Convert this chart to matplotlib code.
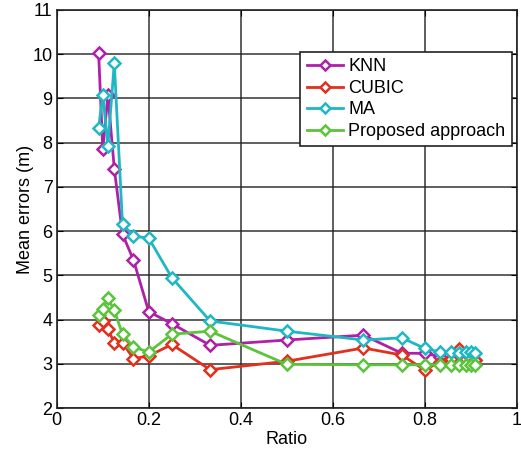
import matplotlib
matplotlib.use('Agg')
from matplotlib import pyplot as plt

plt.rcParams['font.family'] = ['Liberation Sans', 'DejaVu Sans']
plt.rcParams['font.size'] = 13

# ratios (1/k for the low end, k/(k+1) for the high end)
ratio = [1/11, 1/10, 1/9, 1/8, 1/7, 1/6, 1/5, 1/4, 1/3,
         1/2, 2/3, 3/4, 4/5, 5/6, 6/7, 7/8, 8/9, 9/10, 10/11]

knn = [10.03, 7.85, 9.08, 7.41, 5.93, 5.35, 4.18, 3.91, 3.42,
       3.54, 3.65, 3.24, 3.24, 3.16, 3.12, 3.10, 3.10, 3.10, 3.08]
cubic = [3.89, 3.97, 3.78, 3.48, 3.48, 3.12, 3.18, 3.44, 2.87,
         3.06, 3.36, 3.20, 2.86, 3.05, 3.12, 3.33, 3.12, 3.14, 3.09]
ma = [8.33, 9.08, 7.93, 9.80, 6.16, 5.89, 5.84, 4.95, 3.97,
      3.74, 3.54, 3.59, 3.35, 3.27, 3.26, 3.24, 3.27, 3.26, 3.24]
proposed = [4.10, 4.25, 4.49, 4.21, 3.67, 3.38, 3.27, 3.67, 3.74,
            2.99, 2.98, 2.98, 2.98, 2.98, 2.98, 2.98, 2.98, 2.98, 2.98]

series = [('KNN', knn, '#b01fa8'),
          ('CUBIC', cubic, '#e0301e'),
          ('MA', ma, '#1fb8c2'),
          ('Proposed approach', proposed, '#5cc43c')]

fig = plt.figure(figsize=(5.21, 4.51), dpi=100)
ax = fig.add_axes([0.109, 0.095, 0.883, 0.883])

for name, vals, col in series:
    ax.plot(ratio, vals, color=col, lw=2, marker='D', ms=6.5,
            markerfacecolor='white', markeredgecolor=col, markeredgewidth=1.8,
            label=name)

ax.set_xlim(0, 1)
ax.set_ylim(2, 11)
ax.set_xticks([0, 0.2, 0.4, 0.6, 0.8, 1])
ax.set_xticklabels(['0', '0.2', '0.4', '0.6', '0.8', '1'])
ax.set_yticks(range(2, 12))
ax.grid(True, color='#222222', lw=1.2, alpha=0.85)
ax.set_axisbelow(True)
ax.tick_params(direction='in', length=4, top=True, right=True, pad=3)
for s in ax.spines.values():
    s.set_linewidth(1.2)
    s.set_color('#222222')

ax.set_xlabel('Ratio', labelpad=1)
ax.set_ylabel('Mean errors (m)', labelpad=-1)

leg = ax.legend(loc='upper right', bbox_to_anchor=(0.989, 0.894), borderaxespad=0,
                fancybox=False, framealpha=1, edgecolor='#222222', borderpad=0.35,
                handlelength=2.0, handletextpad=0.3, labelspacing=0.25,
                markerscale=0.8)
leg.get_frame().set_linewidth(1.2)

fig.savefig('out.png', dpi=100)
